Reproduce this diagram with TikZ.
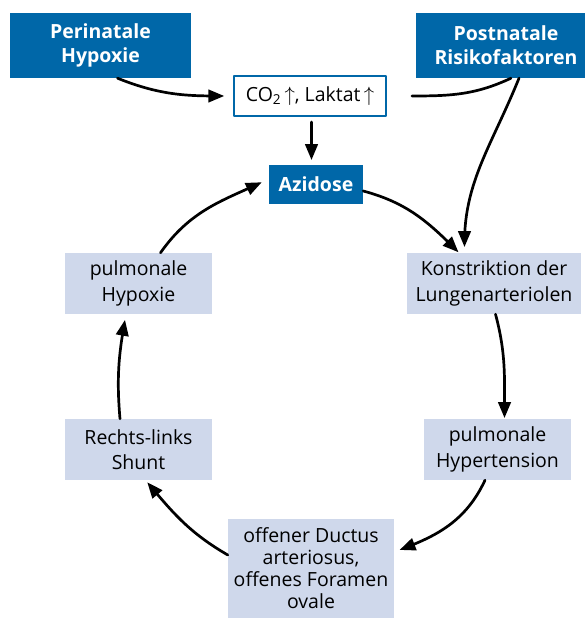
\documentclass[tikz,border=0pt]{standalone}
\usepackage{fontspec}
\setmainfont{Open Sans}
\usetikzlibrary{arrows}
\definecolor{darkblue}{RGB}{0,103,168}
\definecolor{lightblue}{RGB}{207,216,235}

\begin{document}
\begin{tikzpicture}[line cap=round,line join=round,>=triangle 45,x=1pt,y=1pt,
  darkbox/.style={fill=darkblue,text=white,align=center,inner sep=0pt,font=\fontsize{19.5}{24}\selectfont\bfseries},
  lightbox/.style={fill=lightblue,align=center,inner sep=0pt,font=\fontsize{19.5}{25.5}\selectfont},
  arr/.style={->,line width=2.7pt,shorten >=4pt}]
\useasboundingbox (0,0) rectangle (585,620);
% top row
\node[darkbox,minimum width=181pt,minimum height=65pt] (peri) at (100.5,574.5) {Perinatale\\Hypoxie};
\node[darkbox,minimum width=181pt,minimum height=65pt] (post) at (506,574.5) {Postnatale\\Risikofaktoren};
\node[draw=darkblue,line width=2pt,fill=white,minimum width=152pt,minimum height=40pt,inner sep=0pt,font=\fontsize{19.5}{20}\selectfont] (co2) at (310,524) {CO\textsubscript{2}\,$\uparrow$, Laktat\,$\uparrow$};
\node[darkbox,minimum width=94pt,minimum height=39pt] (azid) at (316,435.5) {Azidose};
% circle
\node[lightbox,minimum width=147pt,minimum height=61pt] (phyp) at (138.5,336.5) {pulmonale\\Hypoxie};
\node[lightbox,minimum width=174pt,minimum height=61pt] (konst) at (494,336.5) {Konstriktion der\\Lungenarteriolen};
\node[lightbox,minimum width=147pt,minimum height=61pt] (shunt) at (138.5,170.5) {Rechts-links\\Shunt};
\node[lightbox,minimum width=147pt,minimum height=61pt] (phtn) at (497.5,170.5) {pulmonale\\Hypertension};
\node[lightbox,minimum width=166pt,minimum height=99pt,font=\fontsize{19.5}{22}\selectfont] (duct) at (311,51.5) {offener Ductus\\arteriosus,\\offenes Foramen\\ovale};
% arrows
\draw[arr,shorten >=9pt] ([xshift=17pt]peri.south) to[out=-22,in=180] (co2.west);
\draw[line width=2.7pt] ([xshift=5pt]post.south) to[out=-155,in=0] ([xshift=25pt]co2.east);
\draw[arr,shorten >=6pt] ([xshift=13pt]post.south) to[out=-112,in=90] ([xshift=-29.5pt]konst.north);
\draw[arr,shorten <=5pt,shorten >=5pt] ([xshift=1.5pt]co2.south) -- ([xshift=-4.5pt]azid.north);
\draw[arr,shorten >=1pt] ([yshift=-6.5pt]azid.east) to[out=-15,in=135] ([xshift=-35pt]konst.north);
\draw[arr,shorten >=8pt] ([xshift=22pt]phyp.north) to[out=55,in=-155] ([yshift=5.5pt]azid.west);
\draw[arr,shorten >=1pt] ([xshift=1.5pt]konst.south) to[out=-75,in=90] ([xshift=7pt]phtn.north);
\draw[arr,shorten >=6pt] ([xshift=-12.5pt]phtn.south) to[out=-115,in=21] ([yshift=16.5pt]duct.east);
\draw[arr,shorten >=3pt] ([yshift=13.5pt]duct.west) to[out=150,in=-50] ([xshift=7pt]shunt.south);
\draw[arr,shorten >=6pt] ([xshift=-18.5pt]shunt.north) to[out=95,in=-100] ([xshift=-12.5pt]phyp.south);
\end{tikzpicture}
\end{document}
